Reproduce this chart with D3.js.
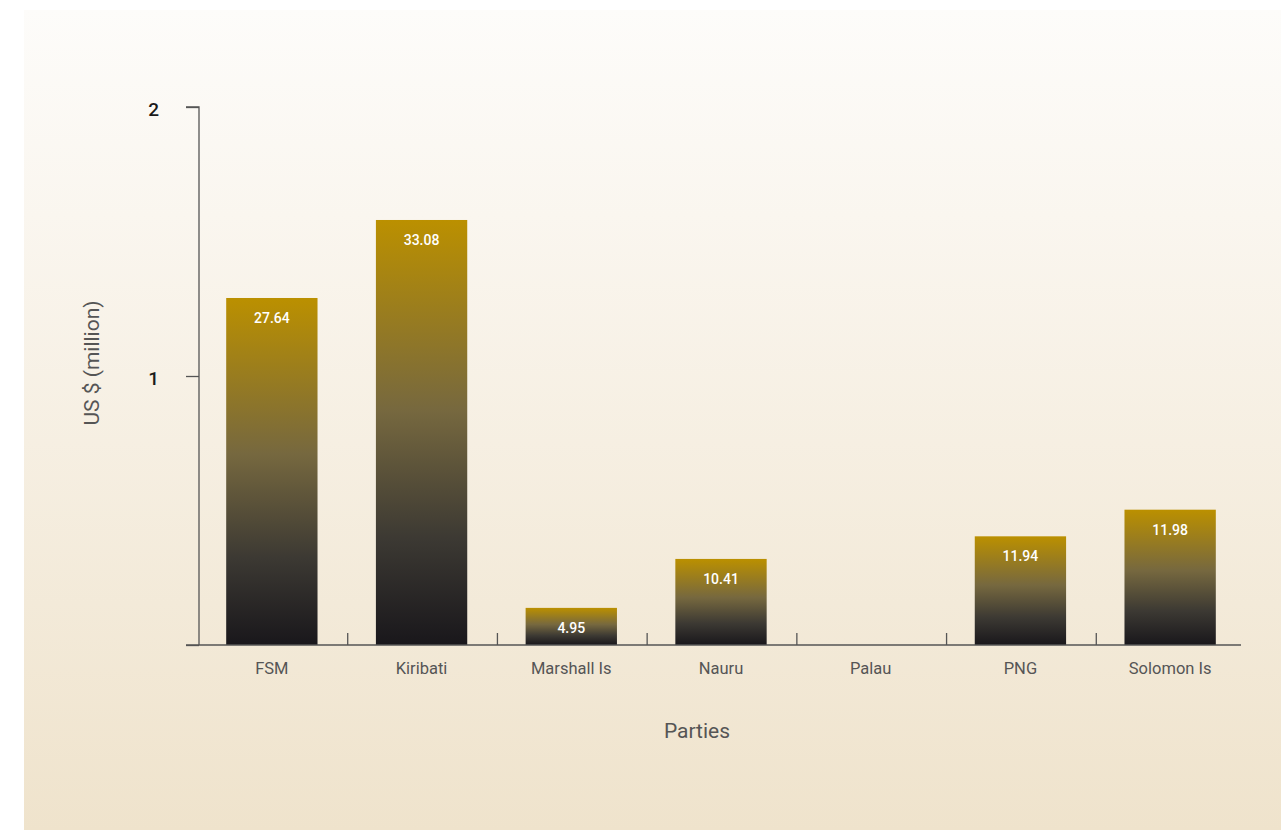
<!DOCTYPE html>
<html>
<head>
<meta charset="utf-8">
<script src="https://cdn.jsdelivr.net/npm/d3@7"></script>
<style>
  html, body { margin: 0; padding: 0; background: #ffffff; }
  svg { display: block; }
  text { font-family: Roboto, "DejaVu Sans", sans-serif; }
</style>
</head>
<body>
<svg id="chart" width="1281" height="830"></svg>
<script>
const categories = ["FSM", "Kiribati", "Marshall Is", "Nauru", "Palau", "PNG", "Solomon Is"];
const values = [1.29, 1.58, 0.138, 0.32, 0, 0.404, 0.503];
const valueLabels = ["27.64", "33.08", "4.95", "10.41", "", "11.94", "11.98"];
const yTicks = [0, 1, 2];
const yTitle = "US $ (million)";
const xTitle = "Parties";

const svg = d3.select("#chart");
const defs = svg.append("defs");

const bg = defs.append("linearGradient").attr("id", "bgGrad")
  .attr("x1", 0).attr("y1", 0).attr("x2", 0).attr("y2", 1);
bg.append("stop").attr("offset", "0%").attr("stop-color", "#fdfcfa");
bg.append("stop").attr("offset", "25%").attr("stop-color", "#faf6ef");
bg.append("stop").attr("offset", "100%").attr("stop-color", "#efe3cc");

const bar = defs.append("linearGradient").attr("id", "barGrad")
  .attr("x1", 0).attr("y1", 0).attr("x2", 0).attr("y2", 1);
bar.append("stop").attr("offset", "0%").attr("stop-color", "#bb9000");
bar.append("stop").attr("offset", "45%").attr("stop-color", "#76683f");
bar.append("stop").attr("offset", "75%").attr("stop-color", "#3c3933");
bar.append("stop").attr("offset", "100%").attr("stop-color", "#19171b");

svg.append("rect").attr("x", 24).attr("y", 10).attr("width", 1257).attr("height", 820)
  .attr("fill", "url(#bgGrad)");

const x = d3.scaleBand().domain(categories).range([198, 1246]).padding(0);
const y = d3.scaleLinear().domain([0, 2]).range([645, 107]);
const barW = x.bandwidth() * 0.61;

// bars
svg.append("g").selectAll("rect").data(categories).join("rect")
  .filter((d, i) => values[i] > 0)
  .attr("x", d => x(d) + (x.bandwidth() - barW) / 2 - 1)
  .attr("y", d => y(values[categories.indexOf(d)]))
  .attr("width", barW)
  .attr("height", d => y(0) - y(values[categories.indexOf(d)]))
  .attr("fill", "url(#barGrad)");

// value labels
svg.append("g").selectAll("text").data(categories).join("text")
  .attr("x", d => x(d) + x.bandwidth() / 2 - 1)
  .attr("y", d => y(values[categories.indexOf(d)]) + 25)
  .attr("text-anchor", "middle")
  .attr("font-size", 14)
  .attr("font-weight", 500)
  .attr("fill", "#ffffff")
  .text((d, i) => valueLabels[i]);

// y axis
const yAxis = d3.axisLeft(y).tickValues(yTicks).tickSize(13).tickPadding(0)
  .tickFormat(d => d === 0 ? "" : d3.format("d")(d));
const gy = svg.append("g").attr("transform", "translate(199,0)").call(yAxis);
gy.select(".domain").attr("stroke", "#555").attr("stroke-width", 1.3)
  .attr("d", `M-13,${y(2)}H0V${y(0)}`);
gy.selectAll(".tick line").attr("stroke", "#555").attr("stroke-width", 1.3);
gy.selectAll(".tick text").attr("x", -40).attr("dy", "0.45em").attr("font-size", 19).attr("font-weight", 500)
  .attr("fill", "#1a1a1a").attr("font-family", "Roboto, sans-serif");

// x axis
const gx = svg.append("g").attr("transform", "translate(0,645)");
gx.append("line").attr("x1", 186).attr("x2", 1241).attr("y1", 0).attr("y2", 0)
  .attr("stroke", "#555").attr("stroke-width", 1.3);
gx.selectAll("line.sep").data(categories.slice(1)).join("line").attr("class", "sep")
  .attr("x1", d => x(d)).attr("x2", d => x(d))
  .attr("y1", 0).attr("y2", -12)
  .attr("stroke", "#555").attr("stroke-width", 1.3);
gx.selectAll("text.cat").data(categories).join("text").attr("class", "cat")
  .attr("x", d => x(d) + x.bandwidth() / 2 - 1)
  .attr("y", 29)
  .attr("text-anchor", "middle")
  .attr("font-size", 16.5)
  .attr("fill", "#555")
  .text(d => d);

// titles
svg.append("text")
  .attr("transform", "translate(99,363) rotate(-90)")
  .attr("text-anchor", "middle")
  .attr("font-size", 21)
  .attr("font-weight", 400)
  .attr("fill", "#555")
  .text(yTitle);

svg.append("text")
  .attr("x", 697).attr("y", 738)
  .attr("text-anchor", "middle")
  .attr("font-size", 21)
  .attr("font-weight", 400)
  .attr("fill", "#555")
  .text(xTitle);
</script>
</body>
</html>
